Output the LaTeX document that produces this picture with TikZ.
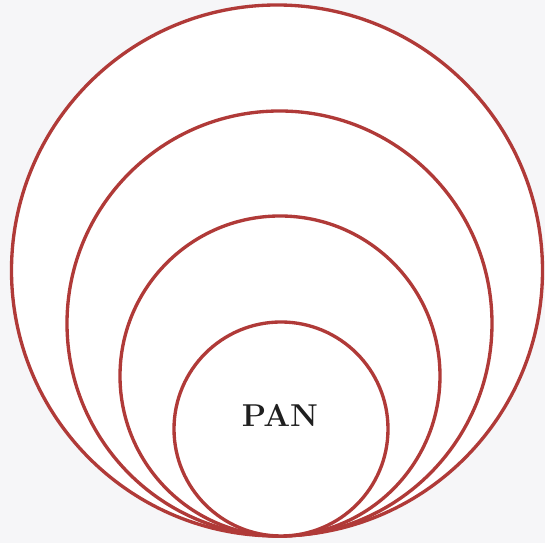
\documentclass[tikz,border=0pt]{standalone}
\usepackage{tikz}
\usetikzlibrary{shapes}
\definecolor{ringred}{RGB}{176,58,56}
\definecolor{pagegrey}{RGB}{246,246,248}
\tikzstyle{ring}=[circle,draw=ringred,fill=white,line width=1.9pt,inner sep=0pt]
\tikzstyle{lbl}=[font=\fontsize{18}{20}\selectfont\bfseries,text=black!88]

\begin{document}
\begin{tikzpicture}
\fill[pagegrey] (0,0) rectangle (10.9,10.86);
\node[ring,minimum size=10.62cm] (R1) at (5.54,5.45) {};
\node[ring,minimum size=8.5cm] (R2) at (5.59,4.39) {};
\node[ring,minimum size=6.4cm] (R3) at (5.60,3.34) {};
\node[ring,minimum size=4.28cm] (R4) at (5.62,2.28) {};
\node[lbl] (P) at (5.6,2.56) {PAN};
\end{tikzpicture}
\end{document}
